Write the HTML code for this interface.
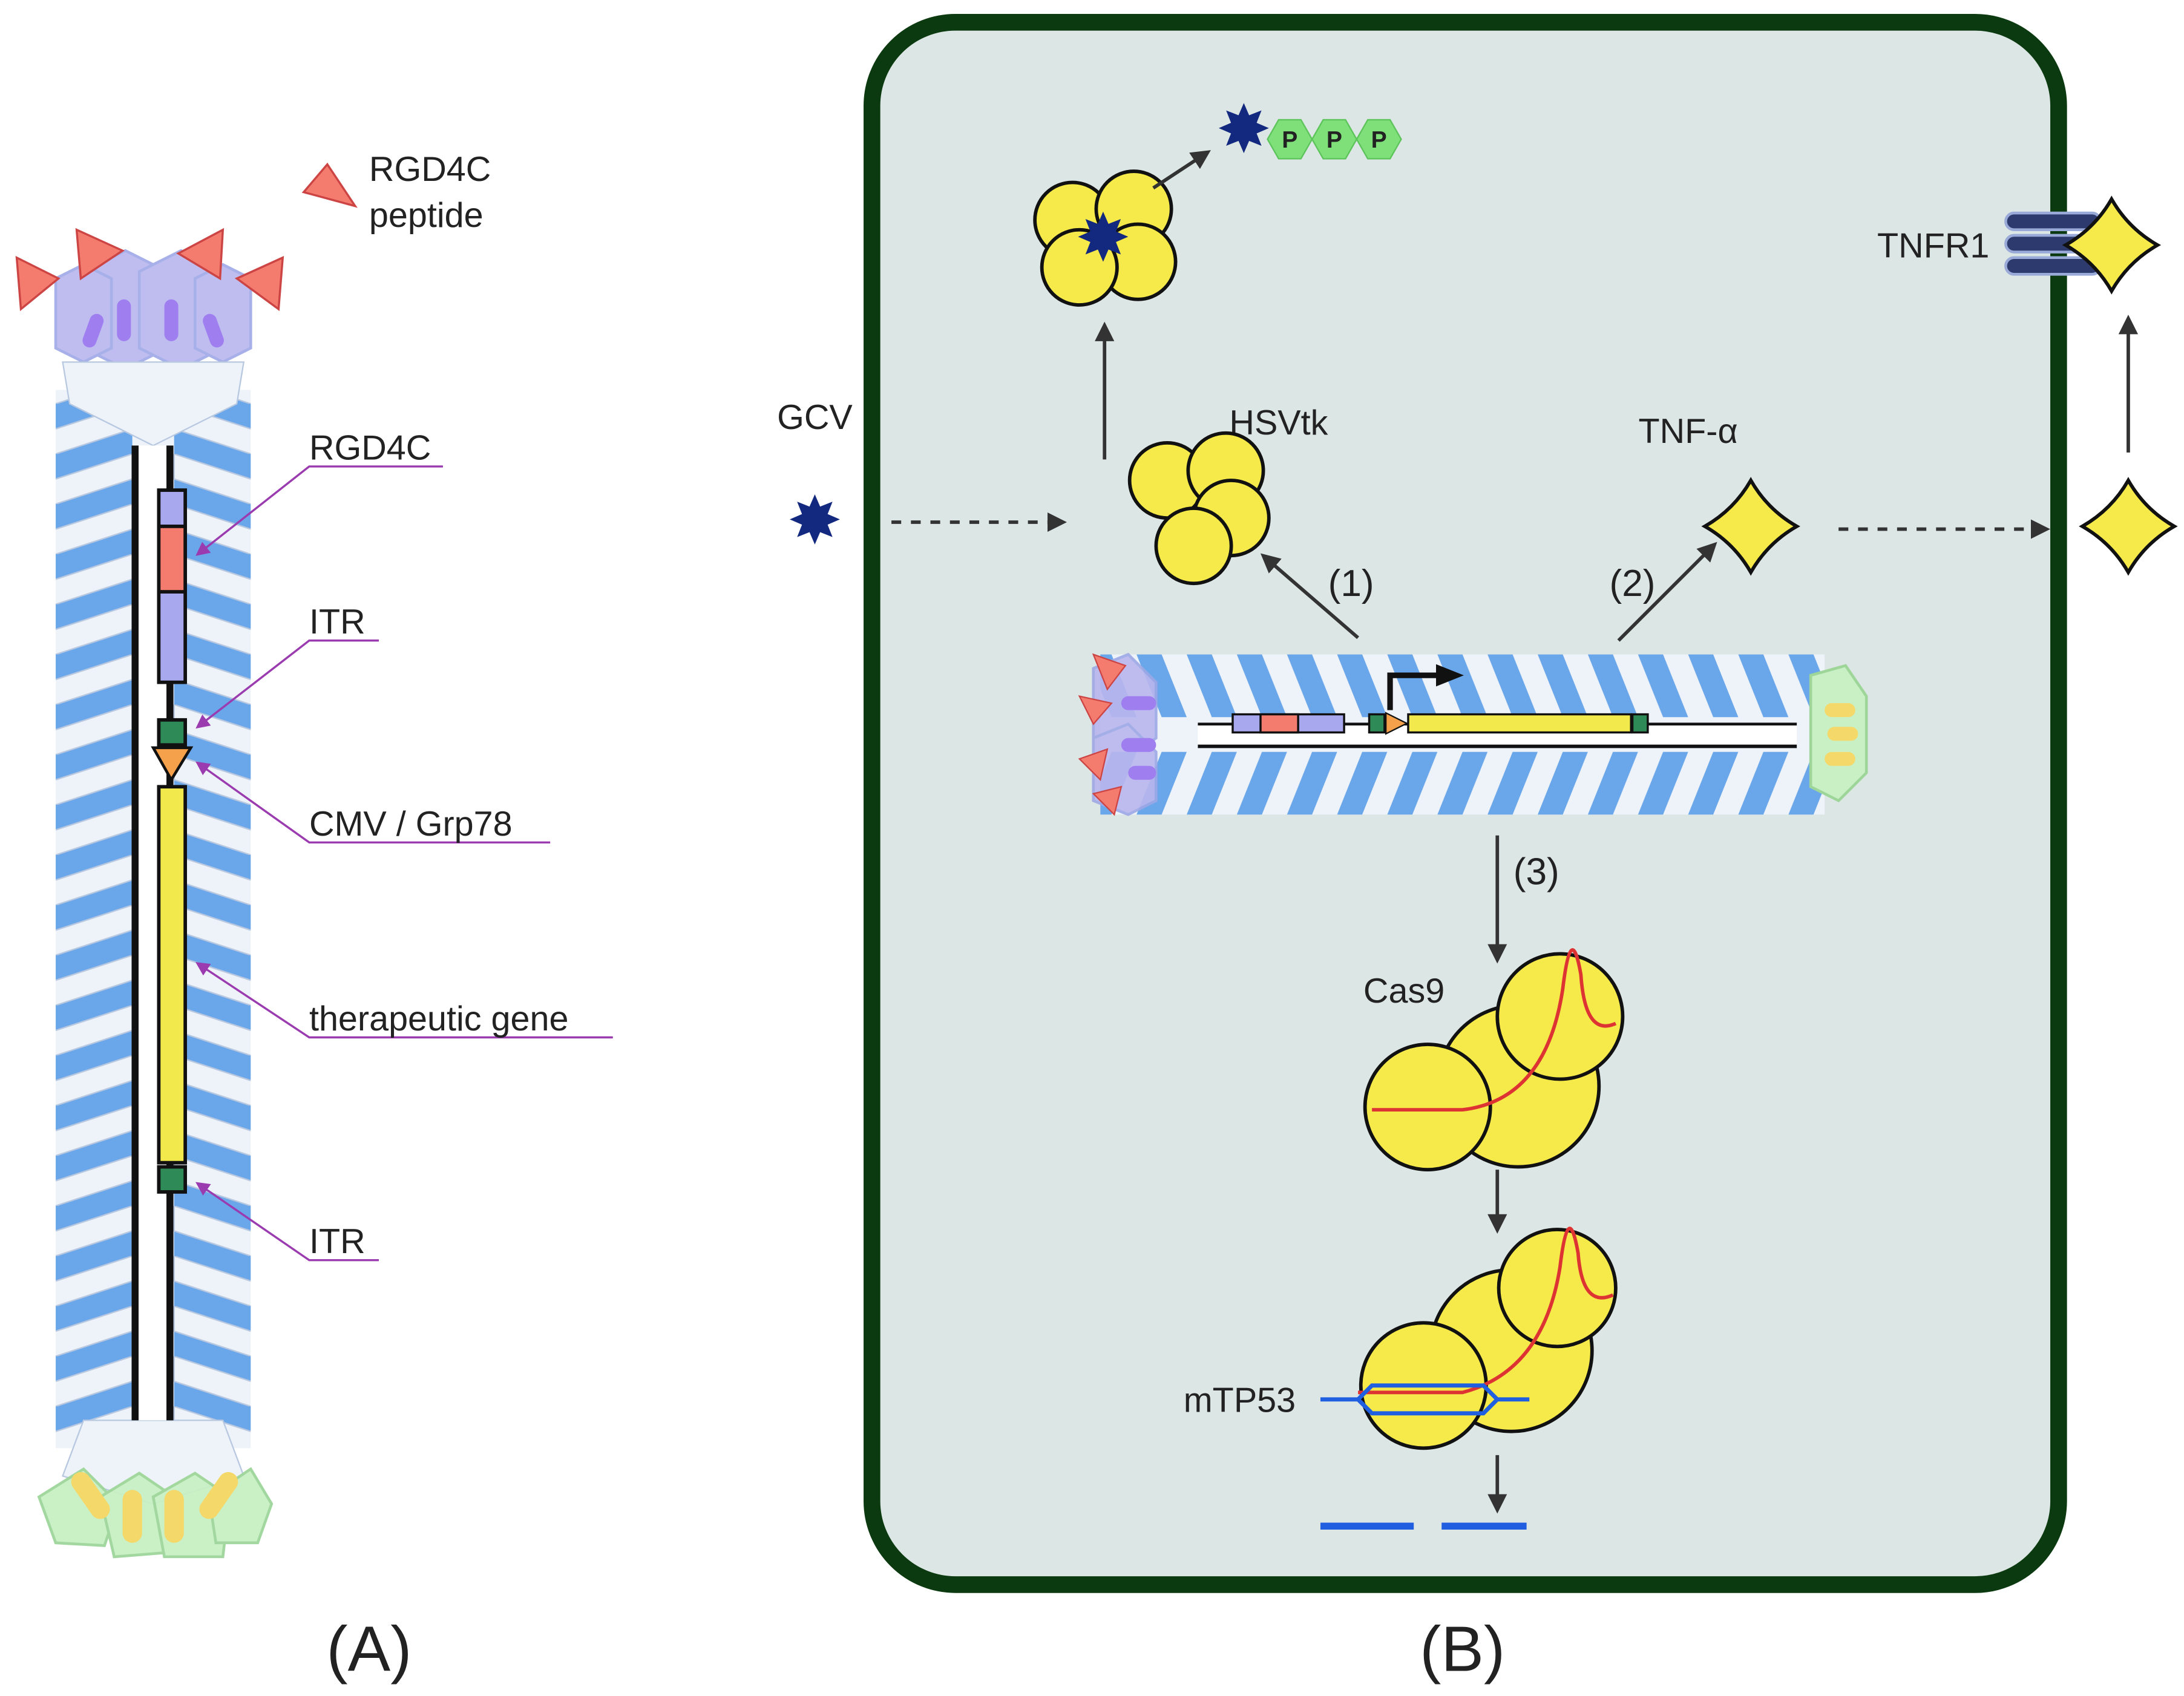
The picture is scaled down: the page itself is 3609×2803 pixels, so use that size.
<!DOCTYPE html>
<html><head><meta charset="utf-8"><style>
html,body{margin:0;padding:0;background:#fff;}
svg{display:block;}
text{font-family:"Liberation Sans",sans-serif;fill:#222;}
</style></head><body>
<svg width="3609" height="2803" viewBox="0 0 1568 1218" preserveAspectRatio="none" xmlns="http://www.w3.org/2000/svg">
<defs>
<marker id="ah2" markerWidth="14" markerHeight="14" refX="10" refY="7" orient="auto" markerUnits="userSpaceOnUse"><path d="M0,0 L14,7 L0,14 Z" fill="#333"/></marker>
<marker id="pa" markerWidth="10" markerHeight="10" refX="8" refY="5" orient="auto" markerUnits="userSpaceOnUse"><path d="M0,0 L10,5 L0,10 Z" fill="#9b3bb0"/></marker>
<marker id="bk" markerWidth="20" markerHeight="20" refX="14" refY="10" orient="auto" markerUnits="userSpaceOnUse"><path d="M0,2 L20,10 L0,18 Z" fill="#111"/></marker>
<polygon id="star" points="18,0 9.2,3.8 12.7,12.7 3.8,9.2 0,18 -3.8,9.2 -12.7,12.7 -9.2,3.8 -18,0 -9.2,-3.8 -12.7,-12.7 -3.8,-9.2 0,-18 3.8,-9.2 12.7,-12.7 9.2,-3.8" fill="#13287f"/>
<path id="dia" d="M0,-33 Q12,-12 33,0 Q12,12 0,33 Q-12,12 -33,0 Q-12,-12 0,-33 Z" fill="#f5ea4a" stroke="#111" stroke-width="2.5"/>
<pattern id="chev" patternUnits="userSpaceOnUse" x="40" y="290" width="140" height="36">
<rect width="140" height="36" fill="#eef3fa"/>
<polygon points="0,36 55,18 55,36 0,54" fill="#6aa6ea"/>
<polygon points="0,0 55,-18 55,0 0,18" fill="#6aa6ea"/>
<polygon points="140,36 85,18 85,36 140,54" fill="#6aa6ea"/>
<polygon points="140,0 85,-18 85,0 140,18" fill="#6aa6ea"/>
<polyline points="0,18 55,0 55,18 0,36" fill="none" stroke="#b8c8e0" stroke-width="1"/>
<polyline points="140,18 85,0 85,18 140,36" fill="none" stroke="#b8c8e0" stroke-width="1"/>
</pattern>
<pattern id="chevh" patternUnits="userSpaceOnUse" x="780" y="470" width="36" height="115">
<rect width="36" height="115" fill="#eef3fa"/>
<polygon points="0,0 18,45 36,45 18,0" fill="#6aa6ea"/>
<polygon points="0,115 18,70 36,70 18,115" fill="#6aa6ea"/>
</pattern>
</defs>

<!-- Panel A -->
<rect x="40" y="280" width="140" height="760" fill="url(#chev)"/>
<g fill="#b9b6ee" stroke="#9ea8e6" stroke-width="2" opacity="0.9">
<polygon points="60,195 90,180 120,195 120,250 90,265 60,250"/>
<polygon points="100,195 130,180 160,195 160,250 130,265 100,250"/>
<polygon points="40,200 60,190 80,200 80,250 60,260 40,250"/>
<polygon points="140,200 160,190 180,200 180,250 160,260 140,250"/>
</g>
<g fill="#9f7ef0"><rect x="84" y="215" width="10" height="30" rx="5"/><rect x="118" y="215" width="10" height="30" rx="5"/><rect x="62" y="225" width="10" height="25" rx="5" transform="rotate(20 67 237)"/><rect x="148" y="225" width="10" height="25" rx="5" transform="rotate(-20 153 237)"/></g>
<polygon points="45,260 175,260 170,290 110,320 50,290" fill="#eef3fa" stroke="#b8c8e0"/>
<g fill="#f47c6e" stroke="#c44" stroke-width="1.5">
<polygon points="12,185 42,200 15,222"/><polygon points="55,165 88,180 58,200"/><polygon points="160,165 128,182 158,200"/><polygon points="203,185 170,200 200,222"/>
<polygon points="218,138 235,118 255,148" /></g>
<polygon points="60,1020 160,1020 175,1060 110,1080 45,1060" fill="#eef3fa" stroke="#b8c8e0"/>
<g fill="#c8f0c4" stroke="#9ed69a" stroke-width="2" opacity="0.95">
<polygon points="28,1075 60,1055 85,1080 75,1110 40,1108"/>
<polygon points="72,1075 100,1058 125,1075 120,1115 82,1118"/>
<polygon points="110,1075 140,1058 165,1075 160,1118 118,1118"/>
<polygon points="150,1075 180,1055 195,1080 185,1108 155,1108"/>
</g>
<g fill="#f5d86a"><rect x="58" y="1055" width="14" height="38" rx="7" transform="rotate(-35 65 1074)"/><rect x="88" y="1070" width="14" height="38" rx="7"/><rect x="118" y="1070" width="14" height="38" rx="7"/><rect x="150" y="1055" width="14" height="38" rx="7" transform="rotate(35 157 1074)"/></g>
<rect x="97" y="320" width="25" height="700" fill="#fff"/>
<line x1="97" y1="320" x2="97" y2="1020" stroke="#111" stroke-width="5"/>
<line x1="122" y1="320" x2="122" y2="1020" stroke="#111" stroke-width="5"/>
<rect x="114" y="352" width="19" height="138" fill="#a8a8ee" stroke="#111" stroke-width="2.5"/>
<rect x="114" y="378" width="19" height="47" fill="#f47c6e" stroke="#111" stroke-width="2.5"/>
<rect x="114" y="517" width="19" height="18" fill="#2e8b57" stroke="#111" stroke-width="2.5"/>
<polygon points="110,537 137,537 123,560" fill="#f5a04a" stroke="#111" stroke-width="2"/>
<rect x="114" y="565" width="19" height="270" fill="#f2ea4c" stroke="#111" stroke-width="2.5"/>
<rect x="114" y="838" width="19" height="18" fill="#2e8b57" stroke="#111" stroke-width="2.5"/>
<g stroke="#9b3bb0" stroke-width="1.5" fill="none">
<path d="M318,335 H222 L142,398" marker-end="url(#pa)"/>
<path d="M272,460 H222 L142,522" marker-end="url(#pa)"/>
<path d="M395,605 H222 L142,548" marker-end="url(#pa)"/>
<path d="M440,745 H222 L142,692" marker-end="url(#pa)"/>
<path d="M272,905 H222 L142,850" marker-end="url(#pa)"/>
</g>
<g font-size="25">
<text x="265" y="130">RGD4C</text><text x="265" y="163">peptide</text>
<text x="222" y="330">RGD4C</text><text x="222" y="455">ITR</text>
<text x="222" y="600">CMV / Grp78</text><text x="222" y="740">therapeutic gene</text>
<text x="222" y="900">ITR</text>
</g>
<text x="265" y="1200" font-size="46" text-anchor="middle">(A)</text>

<!-- Panel B cell -->
<rect x="626" y="16" width="852" height="1122" rx="60" fill="#dce6e4" stroke="#0c3a10" stroke-width="12"/>

<rect x="790" y="470" width="520" height="115" fill="url(#chevh)"/>
<g fill="#b9b6ee" stroke="#9ea8e6" stroke-width="2" opacity="0.9">
<polygon points="785,480 810,470 830,490 830,530 810,545 785,535"/>
<polygon points="785,530 810,520 830,540 830,575 810,585 785,575"/>
</g>
<g fill="#9f7ef0"><rect x="805" y="500" width="25" height="10" rx="5"/><rect x="805" y="530" width="25" height="10" rx="5"/><rect x="810" y="550" width="20" height="10" rx="5"/></g>
<g fill="#f47c6e" stroke="#c44"><polygon points="785,470 808,478 795,495"/><polygon points="775,500 798,505 785,520"/><polygon points="775,545 795,538 790,560"/><polygon points="785,570 805,565 800,585"/></g>
<g fill="#c8f0c4" stroke="#9ed69a" stroke-width="2"><polygon points="1300,485 1325,478 1340,500 1340,555 1320,575 1300,565"/></g>
<g fill="#f5d86a"><rect x="1310" y="505" width="22" height="10" rx="5"/><rect x="1312" y="522" width="22" height="10" rx="5"/><rect x="1310" y="540" width="22" height="10" rx="5"/></g>
<rect x="860" y="520" width="430" height="16" fill="#fff"/>
<line x1="860" y1="520" x2="1290" y2="520" stroke="#111" stroke-width="2"/>
<line x1="860" y1="536" x2="1290" y2="536" stroke="#111" stroke-width="2.5"/>
<rect x="885" y="513" width="80" height="13" fill="#a8a8ee" stroke="#111" stroke-width="1.5"/>
<rect x="905" y="513" width="27" height="13" fill="#f47c6e" stroke="#111" stroke-width="1.5"/>
<rect x="983" y="513" width="11" height="13" fill="#2e8b57" stroke="#111" stroke-width="1.5"/>
<polygon points="995,512 1010,519.5 995,527" fill="#f5a04a" stroke="#111"/>
<rect x="1011" y="513" width="160" height="13" fill="#f2ea4c" stroke="#111" stroke-width="1.5"/>
<rect x="1172" y="513" width="11" height="13" fill="#2e8b57" stroke="#111" stroke-width="1.5"/>
<path d="M998,510 V485 H1045" fill="none" stroke="#111" stroke-width="4" marker-end="url(#bk)"/>

<text x="585" y="308" font-size="25" text-anchor="middle">GCV</text>
<use href="#star" x="585" y="373"/>
<line x1="640" y1="375" x2="762" y2="375" stroke="#333" stroke-width="2.5" stroke-dasharray="7,7" marker-end="url(#ah2)"/>

<text x="918" y="312" font-size="25" text-anchor="middle">HSVtk</text>
<g fill="#f5ea4a" stroke="#111" stroke-width="2.5">
<circle cx="838" cy="345" r="27"/><circle cx="880" cy="338" r="27"/><circle cx="884" cy="372" r="27"/><circle cx="857" cy="392" r="27"/>
</g>
<line x1="793" y1="330" x2="793" y2="235" stroke="#333" stroke-width="2.5" marker-end="url(#ah2)"/>
<g fill="#f5ea4a" stroke="#111" stroke-width="2.5">
<circle cx="770" cy="158" r="27"/><circle cx="814" cy="150" r="27"/><circle cx="817" cy="188" r="27"/><circle cx="775" cy="192" r="27"/>
</g>
<use href="#star" x="792" y="170"/>
<line x1="828" y1="135" x2="866" y2="110" stroke="#333" stroke-width="2.5" marker-end="url(#ah2)"/>
<g fill="#7fe07a" stroke="#5cc45a">
<polygon points="910,100 918,86 934,86 942,100 934,114 918,114"/>
<polygon points="942,100 950,86 966,86 974,100 966,114 950,114"/>
<polygon points="974,100 982,86 998,86 1006,100 998,114 982,114"/>
</g>
<g font-size="17" font-weight="bold" text-anchor="middle"><text x="926" y="106">P</text><text x="958" y="106">P</text><text x="990" y="106">P</text></g>
<use href="#star" x="893" y="92"/>

<line x1="975" y1="458" x2="908" y2="400" stroke="#333" stroke-width="2.5" marker-end="url(#ah2)"/>
<text x="970" y="428" font-size="27" text-anchor="middle">(1)</text>
<line x1="1162" y1="460" x2="1230" y2="392" stroke="#333" stroke-width="2.5" marker-end="url(#ah2)"/>
<text x="1172" y="428" font-size="27" text-anchor="middle">(2)</text>

<text x="1212" y="318" font-size="25" text-anchor="middle">TNF-α</text>
<use href="#dia" x="1257" y="378"/>
<line x1="1320" y1="380" x2="1468" y2="380" stroke="#333" stroke-width="2.5" stroke-dasharray="7,7" marker-end="url(#ah2)"/>
<use href="#dia" x="1528" y="378"/>
<line x1="1528" y1="325" x2="1528" y2="230" stroke="#333" stroke-width="2.5" marker-end="url(#ah2)"/>
<g fill="#2d3a6e" stroke="#9aaad8" stroke-width="2">
<rect x="1440" y="153" width="68" height="12" rx="6"/><rect x="1440" y="169" width="68" height="12" rx="6"/><rect x="1440" y="185" width="68" height="12" rx="6"/>
</g>
<use href="#dia" x="1516" y="176"/>
<text x="1388" y="185" font-size="25" text-anchor="middle">TNFR1</text>

<line x1="1075" y1="600" x2="1075" y2="688" stroke="#333" stroke-width="2.5" marker-end="url(#ah2)"/>
<text x="1103" y="635" font-size="27" text-anchor="middle">(3)</text>
<text x="1008" y="720" font-size="25" text-anchor="middle">Cas9</text>
<g fill="#f5ea4a" stroke="#111" stroke-width="2.5">
<circle cx="1090" cy="780" r="58"/><circle cx="1120" cy="730" r="45"/><circle cx="1025" cy="795" r="45"/>
</g>
<path d="M985,797 H1050 Q1110,790 1122,710 Q1128,660 1135,700 Q1138,745 1160,735" fill="none" stroke="#d33" stroke-width="2.5"/>
<line x1="1075" y1="840" x2="1075" y2="882" stroke="#333" stroke-width="2.5" marker-end="url(#ah2)"/>
<g fill="#f5ea4a" stroke="#111" stroke-width="2.5">
<circle cx="1085" cy="970" r="58"/><circle cx="1118" cy="925" r="42"/><circle cx="1022" cy="995" r="45"/>
</g>
<path d="M975,1000 H1050 Q1108,985 1120,910 Q1126,860 1133,900 Q1136,940 1158,930" fill="none" stroke="#d33" stroke-width="2.5"/>
<g fill="none" stroke="#1f5fe0" stroke-width="3">
<path d="M948,1005 H975 L985,995 H1065 L1075,1005 H1098"/>
<path d="M975,1005 L985,1015 H1065 L1075,1005"/>
</g>
<text x="890" y="1014" font-size="25" text-anchor="middle">mTP53</text>
<line x1="1075" y1="1045" x2="1075" y2="1083" stroke="#333" stroke-width="2.5" marker-end="url(#ah2)"/>
<g stroke="#1f5fe0" stroke-width="5"><line x1="948" y1="1096" x2="1015" y2="1096"/><line x1="1035" y1="1096" x2="1096" y2="1096"/></g>
<text x="1050" y="1200" font-size="46" text-anchor="middle">(B)</text>
</svg>
</body></html>
